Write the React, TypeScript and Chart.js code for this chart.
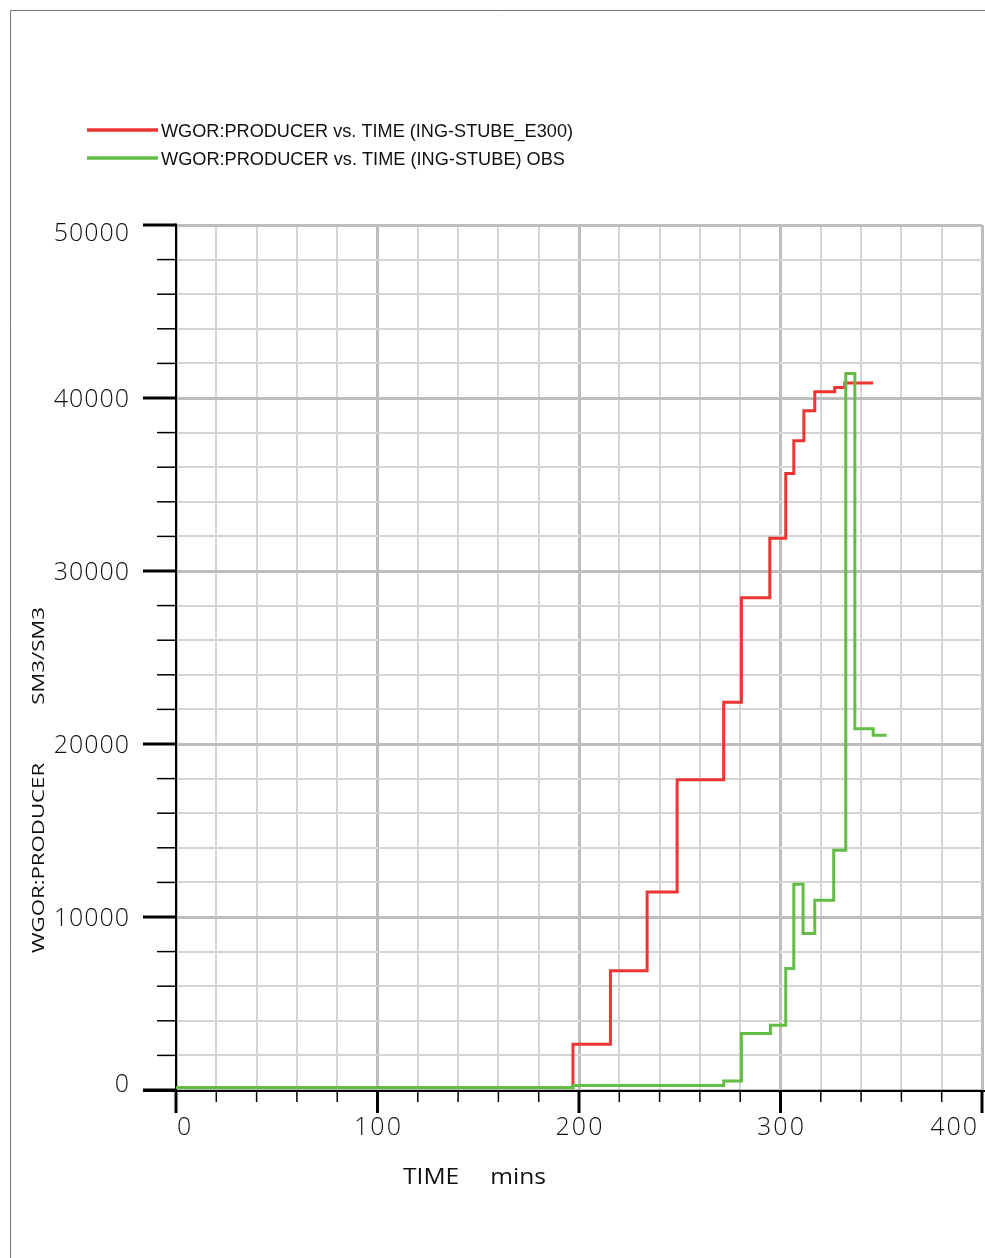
import React, { useEffect, useRef } from 'react';
import { Chart, registerables } from 'chart.js';

Chart.register(...registerables);

// ---- data ----
const seriesLabels = [
  'WGOR:PRODUCER vs. TIME (ING-STUBE_E300)',
  'WGOR:PRODUCER vs. TIME (ING-STUBE) OBS',
];
const redTimes = [0, 197, 215.6, 233.8, 248.7, 271.8, 280.6, 294.7, 302.6, 306.6, 311.6, 317, 326.9, 331.9, 346];
const redValues = [150, 2650, 6890, 11450, 17940, 22420, 28450, 31890, 35640, 37530, 39260, 40360, 40610, 40860, 40860];
const greenTimes = [0, 197, 271.8, 280.6, 295, 302.6, 306.6, 311.2, 317, 326.4, 332.4, 336.9, 346, 352.6];
const greenValues = [150, 260, 520, 3270, 3750, 7030, 11890, 9050, 10970, 13860, 41420, 20880, 20500, 20500];
const xTickLabels = ['0', '100', '200', '300', '400'];
const yTickLabels = ['0', '10000', '20000', '30000', '40000', '50000'];
const xTitle = 'TIME mins';
const yTitle = 'WGOR:PRODUCER SM3/SM3';

const X_MIN = 0;
const X_MAX = 400;
const X_STEP = 20;
const X_MAJOR = 100;
const Y_MIN = 0;
const Y_MAX = 50000;
const Y_STEP = 2000;
const Y_MAJOR = 10000;

const RED = '#ef3434';
const GREEN = '#63bd45';

function fitText(
  ctx: CanvasRenderingContext2D,
  text: string,
  x: number,
  y: number,
  width: number,
  font: string,
  align: CanvasTextAlign,
  wordSpacing = 0,
  rotate = 0
) {
  ctx.save();
  ctx.font = font;
  (ctx as any).wordSpacing = wordSpacing + 'px';
  (ctx as any).letterSpacing = '0px';
  const w = ctx.measureText(text).width;
  const s = width / w;
  ctx.translate(x, y);
  if (rotate) ctx.rotate(rotate);
  ctx.scale(s, 1);
  ctx.textAlign = align;
  ctx.textBaseline = 'alphabetic';
  ctx.fillText(text, 0, 0);
  ctx.restore();
}

const decorPlugin = {
  id: 'decor',
  beforeDatasetsDraw(chart: any) {
    const { ctx, scales } = chart;
    const xs = scales.x;
    const ys = scales.y;
    const x0 = xs.getPixelForValue(X_MIN);
    const y0 = ys.getPixelForValue(Y_MIN);
    const yTop = ys.getPixelForValue(Y_MAX);
    ctx.save();
    ctx.strokeStyle = '#000';
    ctx.lineCap = 'butt';
    // y ticks
    for (let v = Y_MIN; v <= Y_MAX; v += Y_STEP) {
      const py = ys.getPixelForValue(v);
      const major = v % Y_MAJOR === 0;
      ctx.lineWidth = major ? 3 : 1.5;
      ctx.beginPath();
      ctx.moveTo(x0 - (major ? 33 : 19), py);
      ctx.lineTo(x0, py);
      ctx.stroke();
    }
    // x ticks
    for (let v = X_MIN; v <= X_MAX; v += X_STEP) {
      const px = xs.getPixelForValue(v);
      const major = v % X_MAJOR === 0;
      ctx.lineWidth = major ? 3 : 1.5;
      ctx.beginPath();
      ctx.moveTo(px, y0);
      ctx.lineTo(px, y0 + (major ? 23 : 12));
      ctx.stroke();
    }
    // axis lines
    ctx.lineWidth = 2;
    ctx.beginPath();
    ctx.moveTo(x0, yTop - 1.5);
    ctx.lineTo(x0, y0 + 23);
    ctx.stroke();
    ctx.beginPath();
    ctx.moveTo(x0 - 33, y0 + 1);
    ctx.lineTo(chart.width, y0 + 1);
    ctx.stroke();
    ctx.restore();
  },
  afterDraw(chart: any) {
    const { ctx, scales } = chart;
    const xs = scales.x;
    const ys = scales.y;
    ctx.save();
    // frame
    ctx.strokeStyle = '#777';
    ctx.lineWidth = 1;
    ctx.beginPath();
    ctx.moveTo(10.5, chart.height);
    ctx.lineTo(10.5, 10.5);
    ctx.lineTo(chart.width, 10.5);
    ctx.stroke();

    ctx.fillStyle = '#111';
    // y tick labels
    ctx.font = '300 25px "Open Sans"';
    (ctx as any).letterSpacing = '1px';
    ctx.textBaseline = 'alphabetic';
    ctx.textAlign = 'right';
    yTickLabels.forEach((lab) => {
      const v = Number(lab);
      const py = ys.getPixelForValue(v);
      let by = py + 9;
      if (v === Y_MAX) by = py + 16;
      if (v === Y_MIN) by = py + 2;
      ctx.fillText(lab, 130, by);
    });
    // x tick labels
    (ctx as any).letterSpacing = '2px';
    xTickLabels.forEach((lab, i) => {
      const v = Number(lab);
      const px = xs.getPixelForValue(v);
      if (i === 0) {
        ctx.textAlign = 'left';
        ctx.fillText(lab, px + 1, 1135);
      } else if (i === xTickLabels.length - 1) {
        ctx.textAlign = 'right';
        ctx.fillText(lab, px - 3, 1135);
      } else {
        ctx.textAlign = 'center';
        ctx.fillText(lab, px + 1, 1135);
      }
    });
    (ctx as any).letterSpacing = '0px';

    // axis titles
    fitText(ctx, xTitle, 403, 1184, 143, '400 22px "Open Sans"', 'left', 22);
    fitText(ctx, yTitle, 44, 780, 346, '400 17px "Open Sans"', 'center', 40, -Math.PI / 2);

    // legend
    const legendColors = [RED, GREEN];
    const legendY = [130, 158];
    const legendW = [412, 404];
    seriesLabels.forEach((lab, i) => {
      ctx.strokeStyle = legendColors[i];
      ctx.lineWidth = 3.5;
      ctx.beginPath();
      ctx.moveTo(87, legendY[i]);
      ctx.lineTo(158, legendY[i]);
      ctx.stroke();
      ctx.fillStyle = '#111';
      fitText(ctx, lab, 161, legendY[i] + 6.5, legendW[i], '18px "Liberation Sans"', 'left');
    });
    ctx.restore();
  },
};

export default function App() {
  const ref = useRef<HTMLCanvasElement>(null);
  useEffect(() => {
    if (!ref.current) return;
    const redData = redTimes.map((t, i) => ({ x: t, y: redValues[i] }));
    const greenData = greenTimes.map((t, i) => ({ x: t, y: greenValues[i] }));
    const chart = new Chart(ref.current, {
      type: 'line',
      data: {
        datasets: [
          {
            label: seriesLabels[0],
            data: redData,
            borderColor: RED,
            backgroundColor: RED,
            borderWidth: 3,
            pointRadius: 0,
            stepped: 'before',
            fill: false,
            order: 1,
          },
          {
            label: seriesLabels[1],
            data: greenData,
            borderColor: GREEN,
            backgroundColor: GREEN,
            borderWidth: 3,
            pointRadius: 0,
            stepped: 'before',
            fill: false,
            order: 0,
          },
        ],
      },
      options: {
        responsive: false,
        maintainAspectRatio: false,
        devicePixelRatio: 1,
        animation: false,
        events: [],
        layout: { padding: { left: 0, top: 225, right: 3, bottom: 168 } },
        plugins: {
          legend: { display: false },
          tooltip: { enabled: false },
          title: { display: false },
        },
        scales: {
          x: {
            type: 'linear',
            min: X_MIN,
            max: X_MAX,
            border: { display: false },
            ticks: { display: false, stepSize: X_STEP, maxTicksLimit: 1000 },
            grid: {
              drawTicks: false,
              color: (c: any) => (c.tick && c.tick.value % X_MAJOR === 0 ? '#bdbdbd' : '#d4d4d4'),
              lineWidth: (c: any) => (c.tick && c.tick.value % X_MAJOR === 0 ? 3 : 2),
            },
            afterFit: (scale: any) => {
              scale.height = 0;
            },
          },
          y: {
            type: 'linear',
            min: Y_MIN,
            max: Y_MAX,
            border: { display: false },
            ticks: { display: false, stepSize: Y_STEP, maxTicksLimit: 1000 },
            grid: {
              drawTicks: false,
              color: (c: any) => (c.tick && c.tick.value % Y_MAJOR === 0 ? '#bdbdbd' : '#d4d4d4'),
              lineWidth: (c: any) => (c.tick && c.tick.value % Y_MAJOR === 0 ? 3 : 2),
            },
            afterFit: (scale: any) => {
              scale.width = 176;
            },
          },
        },
      },
      plugins: [decorPlugin],
    } as any);
    return () => chart.destroy();
  }, []);
  return (
    <div style={{ position: 'absolute', left: 0, top: 0, width: 985, height: 1258, background: '#fff' }}>
      <canvas ref={ref} width={985} height={1258} style={{ display: 'block', width: 985, height: 1258 }} />
    </div>
  );
}
